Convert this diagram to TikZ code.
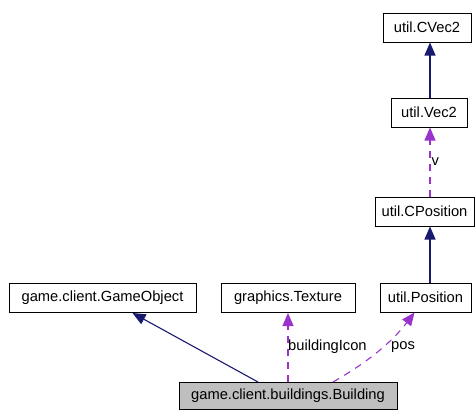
\documentclass[tikz,border=0pt]{standalone}
\usepackage{fontspec}
\setmainfont{Liberation Sans}
\usetikzlibrary{arrows.meta}
\definecolor{inhcol}{HTML}{191970}
\definecolor{usecol}{HTML}{9A32CD}
\definecolor{focusfill}{HTML}{BFBFBF}
\begin{document}
\begin{tikzpicture}[x=1pt,y=-1pt,
  cls/.style={draw=black,line width=1pt,fill=white,rectangle,inner sep=0pt,
    minimum height=29pt,font=\fontsize{14.7}{17}\selectfont},
  inherit/.style={draw=inhcol,line width=1.1pt,
    -{Triangle[length=13pt,width=11pt,fill=inhcol]}},
  uses/.style={draw=usecol,line width=1.1pt,dash pattern=on 7pt off 6pt,
    -{Triangle[length=13pt,width=11pt,fill=usecol]}},
  lbl/.style={font=\fontsize{14.7}{17}\selectfont,inner sep=0pt,anchor=west}]
  \useasboundingbox (0,0) rectangle (475,410);

  % class boxes
  \node[cls,minimum width=88pt]  (cvec2) at (427,27.5)  {util.CVec2};
  \node[cls,minimum width=76pt]  (vec2)  at (429,112.5) {util.Vec2};
  \node[cls,minimum width=99pt]  (cpos)  at (424.5,211.5) {util.CPosition};
  \node[cls,minimum width=91pt]  (pos)   at (425.5,297.5) {util.Position};
  \node[cls,minimum width=187pt] (gobj)  at (102.5,298) {game.client.GameObject};
  \node[cls,minimum width=134pt] (tex)   at (288,298)   {graphics.Texture};
  \node[cls,minimum width=218pt,minimum height=27pt,fill=focusfill]
        (bld) at (288,396) {game.client.buildings.Building};

  % column where the right-hand connectors run
  \coordinate (colx) at (430,0);

  % inheritance
  \draw[inherit] (vec2.north -| colx) -- (cvec2.south -| colx);
  \draw[inherit] (pos.north -| colx) -- (cpos.south -| colx);
  \draw[inherit] ([xshift=-30pt]bld.north) -- ([xshift=30pt]gobj.south);

  % usage relations
  \draw[uses] (cpos.north -| colx) -- node[lbl,pos=0.5,xshift=1pt] {v} (vec2.south -| colx);
  \draw[uses] (bld.north -| tex) -- (tex.south);
  \node[lbl] (lblicon) at (288,347) {buildingIcon};
  \draw[uses] ([xshift=45pt]bld.north)
     .. controls (368,362) and (392,342) .. ([xshift=-11pt]pos.south);
  \node[lbl] (lblpos) at (391,347) {pos};
\end{tikzpicture}
\end{document}
